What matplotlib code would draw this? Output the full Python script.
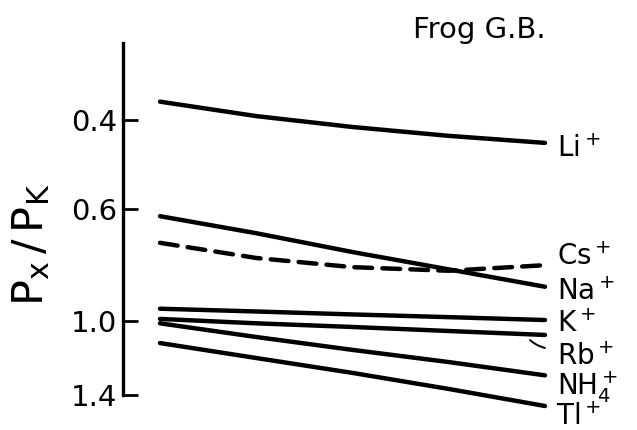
#!/usr/bin/env python3

import matplotlib
matplotlib.use('Agg')
from matplotlib import pyplot as plt

# Relative permeabilities P_x / P_K, left to right
x_pos = [0.0, 0.25, 0.5, 0.75, 1.0]
li = [0.368, 0.393, 0.413, 0.43, 0.444]
na = [0.62, 0.67, 0.73, 0.79, 0.855]
cs = [0.70, 0.75, 0.782, 0.795, 0.775]
k = [0.945, 0.957, 0.97, 0.982, 0.995]
rb = [0.99, 1.01, 1.027, 1.046, 1.065]
nh4 = [1.01, 1.075, 1.14, 1.205, 1.28]
tl = [1.105, 1.183, 1.266, 1.362, 1.472]

ion_labels = ['Li$^+$', 'Cs$^+$', 'Na$^+$', 'K$^+$', 'Rb$^+$', 'NH$_4^+$', 'Tl$^+$']
y_ticks = [0.4, 0.6, 1.0, 1.4]
tick_labels = ['0.4', '0.6', '1.0', '1.4']


def main():
    plt.rcParams['font.family'] = ['DejaVu Sans']
    plt.rcParams['mathtext.default'] = 'regular'

    fig = plt.figure(figsize=(6.37, 4.30), dpi=100)
    ax = fig.add_axes([0.1931, 0.0814, 0.686, 0.8186])

    series = [li, cs, na, k, rb, nh4, tl]
    # label offsets from the line end, in pixels (dx, dy)
    offsets = [(12, -14), (12, 0), (12, -13), (12, -12), (12, -30), (12, -20), (11, -19)]
    lw = 3.2
    for ys, name, off in zip(series, ion_labels, offsets):
        style = dict(color='k', lw=lw, solid_capstyle='round', clip_on=False)
        if ys is cs:
            ax.plot(x_pos, ys, ls=(0, (4, 2.3)), dash_capstyle='round', **style)
        else:
            ax.plot(x_pos, ys, **style)
        ax.annotate(name, xy=(x_pos[-1], ys[-1]), xytext=off, textcoords='offset pixels',
                    fontsize=20, ha='left', va='baseline', annotation_clip=False)

    # little hook tying the Rb label to its line
    ax.annotate('', xy=(1.0, 1.13), xytext=(0.961, 1.09), annotation_clip=False,
                arrowprops=dict(arrowstyle='-', lw=1.4, shrinkA=0, shrinkB=0,
                                connectionstyle='arc3,rad=0.12'))

    ax.set_yscale('log')
    ax.set_ylim(1.4, 0.2817)
    ax.set_xlim(-0.0961, 1.039)
    ax.set_yticks(y_ticks)
    ax.set_yticklabels(tick_labels)
    ax.minorticks_off()
    ax.tick_params(axis='y', direction='in', length=11, width=2, labelsize=21, pad=4)
    ax.set_xticks([])
    for side in ['top', 'right', 'bottom']:
        ax.spines[side].set_visible(False)
    ax.spines['left'].set_linewidth(2.4)

    fig.text(31 / 637, 0.43, r'$P_x\,/\,P_K$', rotation=90, ha='center', va='center', fontsize=31)
    fig.text(413 / 637, 0.9116, 'Frog G.B.', ha='left', va='baseline', fontsize=21)

    fig.savefig('out.png', dpi=100)


if __name__ == '__main__':
    main()
